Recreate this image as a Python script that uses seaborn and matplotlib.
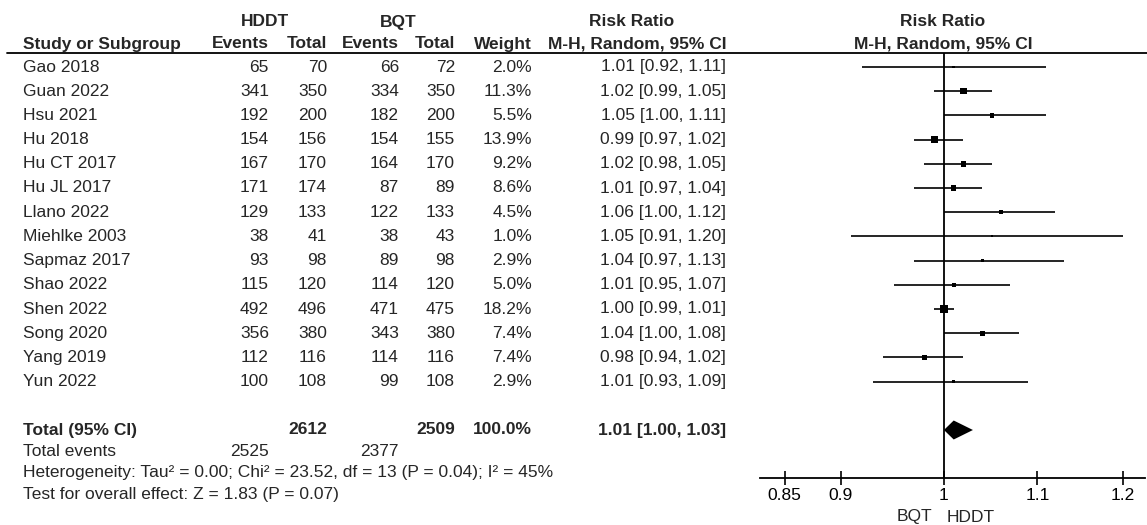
import numpy as np
import pandas as pd
import matplotlib
matplotlib.use("Agg")
import matplotlib.pyplot as plt
from matplotlib.ticker import NullLocator
import seaborn as sns

# dados do forest plot
studies = ["Gao 2018", "Guan 2022", "Hsu 2021", "Hu 2018", "Hu CT 2017", "Hu JL 2017",
           "Llano 2022", "Miehlke 2003", "Sapmaz 2017", "Shao 2022", "Shen 2022",
           "Song 2020", "Yang 2019", "Yun 2022"]
hddt_events = [65, 341, 192, 154, 167, 171, 129, 38, 93, 115, 492, 356, 112, 100]
hddt_total = [70, 350, 200, 156, 170, 174, 133, 41, 98, 120, 496, 380, 116, 108]
bqt_events = [66, 334, 182, 154, 164, 87, 122, 38, 89, 114, 471, 343, 114, 99]
bqt_total = [72, 350, 200, 155, 170, 89, 133, 43, 98, 120, 475, 380, 116, 108]
weight = [2.0, 11.3, 5.5, 13.9, 9.2, 8.6, 4.5, 1.0, 2.9, 5.0, 18.2, 7.4, 7.4, 2.9]
rr = [1.01, 1.02, 1.05, 0.99, 1.02, 1.01, 1.06, 1.05, 1.04, 1.01, 1.00, 1.04, 0.98, 1.01]
rr_lo = [0.92, 0.99, 1.00, 0.97, 0.98, 0.97, 1.00, 0.91, 0.97, 0.95, 0.99, 1.00, 0.94, 0.93]
rr_hi = [1.11, 1.05, 1.11, 1.02, 1.05, 1.04, 1.12, 1.20, 1.13, 1.07, 1.01, 1.08, 1.02, 1.09]

total_hddt, total_bqt = 2612, 2509
events_hddt, events_bqt = 2525, 2377
total_rr, total_lo, total_hi = 1.01, 1.00, 1.03
heterogeneity = "Heterogeneity: Tau\u00b2 = 0.00; Chi\u00b2 = 23.52, df = 13 (P = 0.04); I\u00b2 = 45%"
overall = "Test for overall effect: Z = 1.83 (P = 0.07)"
ticks = [0.85, 0.9, 1, 1.1, 1.2]
tick_labels = ["0.85", "0.9", "1", "1.1", "1.2"]

sns.set_theme(style="white")
plt.rcParams['font.family'] = ['Liberation Sans', 'DejaVu Sans']
fs = 12.5

fig = plt.figure(figsize=(11.47, 5.25), dpi=100)

# tabela (coordenadas em pixels)
tab = fig.add_axes([0, 0, 1, 1])
tab.set_xlim(0, 1147)
tab.set_ylim(525, 0)
tab.axis('off')

row_y = 67 + 24.2 * np.arange(len(studies))
y_total, y_events, y_het, y_test = 430, 451, 472, 494

# cabeçalho
tab.text(265, 22, "HDDT", ha='center', va='center', fontsize=fs, fontweight='bold')
tab.text(398, 22, "BQT", ha='center', va='center', fontsize=fs, fontweight='bold')
tab.text(632, 22, "Risk Ratio", ha='center', va='center', fontsize=fs, fontweight='bold')
tab.text(943, 22, "Risk Ratio", ha='center', va='center', fontsize=fs, fontweight='bold')
cols = [(23, "Study or Subgroup", 'left'), (269, "Events", 'right'), (327, "Total", 'right'),
        (399, "Events", 'right'), (455, "Total", 'right'), (532, "Weight", 'right'),
        (726, "M-H, Random, 95% CI", 'right'), (943, "M-H, Random, 95% CI", 'center')]
for x, txt, ha in cols:
    tab.text(x, 44, txt, ha=ha, va='center', fontsize=fs, fontweight='bold')
tab.plot([7, 1147], [53, 53], color='black', lw=1.3)

# linhas dos estudos
for i in range(len(studies)):
    y = row_y[i]
    tab.text(23, y, studies[i], ha='left', va='center', fontsize=fs)
    tab.text(269, y, str(hddt_events[i]), ha='right', va='center', fontsize=fs)
    tab.text(327, y, str(hddt_total[i]), ha='right', va='center', fontsize=fs)
    tab.text(399, y, str(bqt_events[i]), ha='right', va='center', fontsize=fs)
    tab.text(455, y, str(bqt_total[i]), ha='right', va='center', fontsize=fs)
    tab.text(532, y, f"{weight[i]:.1f}%", ha='right', va='center', fontsize=fs)
    tab.text(726, y, f"{rr[i]:.2f} [{rr_lo[i]:.2f}, {rr_hi[i]:.2f}]", ha='right', va='center', fontsize=fs)

# total
tab.text(23, y_total, "Total (95% CI)", ha='left', va='center', fontsize=fs, fontweight='bold')
tab.text(327, y_total, str(total_hddt), ha='right', va='center', fontsize=fs, fontweight='bold')
tab.text(455, y_total, str(total_bqt), ha='right', va='center', fontsize=fs, fontweight='bold')
tab.text(532, y_total, "100.0%", ha='right', va='center', fontsize=fs, fontweight='bold')
tab.text(726, y_total, f"{total_rr:.2f} [{total_lo:.2f}, {total_hi:.2f}]", ha='right', va='center',
         fontsize=fs, fontweight='bold')
tab.text(23, y_events, "Total events", ha='left', va='center', fontsize=fs)
tab.text(269, y_events, str(events_hddt), ha='right', va='center', fontsize=fs)
tab.text(399, y_events, str(events_bqt), ha='right', va='center', fontsize=fs)
tab.text(23, y_het, heterogeneity, ha='left', va='center', fontsize=fs)
tab.text(23, y_test, overall, ha='left', va='center', fontsize=fs)

tab.text(932, 517, "BQT", ha='right', va='center', fontsize=fs)
tab.text(947, 517, "HDDT", ha='left', va='center', fontsize=fs)

# gráfico
ax = fig.add_axes([760 / 1147, (525 - 478) / 525, (1145 - 760) / 1147, 478 / 525])
ax.patch.set_alpha(0)
df = pd.DataFrame({'study': studies, 'rr': rr, 'lo': rr_lo, 'hi': rr_hi, 'weight': weight, 'y': row_y})
ax.hlines(df['y'], df['lo'], df['hi'], color='black', lw=1.2)
sns.scatterplot(data=df, x='rr', y='y', size='weight',
                sizes=(1.8 * min(weight), 1.8 * max(weight)),
                marker='s', color='black', edgecolor='black', linewidth=0,
                legend=False, ax=ax, zorder=3)
ax.fill([total_lo, total_rr, total_hi, total_rr], [y_total, y_total - 9.5, y_total, y_total + 9.5],
        color='black', lw=0)
ax.vlines(1, 53, 478, color='black', lw=1.3)

ax.set_xscale('log')
ax.set_xlim(0.829, 1.2275)
ax.set_ylim(478, 0)
ax.set_xticks(ticks)
ax.set_xticklabels(tick_labels)
ax.xaxis.set_minor_locator(NullLocator())
ax.set_yticks([])
ax.set_xlabel("")
ax.set_ylabel("")
for s in ['top', 'left', 'right']:
    ax.spines[s].set_visible(False)
ax.spines['bottom'].set_color('black')
ax.spines['bottom'].set_linewidth(1.3)
ax.tick_params(axis='x', direction='inout', length=10, width=1.2, colors='black',
               labelsize=fs, pad=2, bottom=True)

fig.savefig("out.png", dpi=100, facecolor='white')
